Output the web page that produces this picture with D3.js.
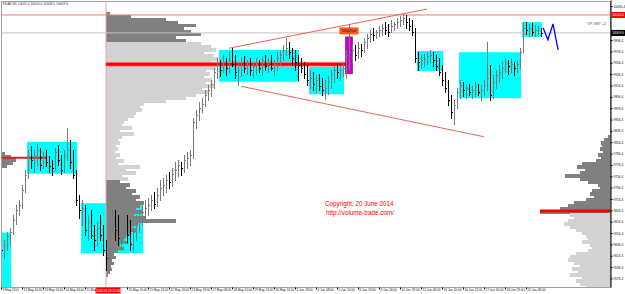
<!DOCTYPE html>
<html>
<head>
<meta charset="utf-8">
<script src="https://cdn.jsdelivr.net/npm/d3@7"></script>
<style>
  body { margin: 0; background: #fff; }
  svg { display: block; font-family: "Liberation Sans", Arial, sans-serif; }
</style>
</head>
<body>
<svg width="625" height="294"></svg>
<script>
// ---- data (FDAX H1, 9 May - 20 Jun 2014) ----
var firstOpen = 9640;
var high = [
  9648,9644,9658,9665,9688,9706,9715,9741,9767,9803,
  9810,9803,9813,9806,9799,9803,9792,9785,9806,9812,
  9794,9803,9841,9820,9803,9767,9723,9715,9706,9688,
  9697,9671,9676,9688,9671,9644,9683,9706,9697,9688,
  9671,9693,9688,9679,9671,9688,9697,9706,9715,9718,
  9723,9729,9736,9750,9753,9759,9764,9771,9782,9785,
  9782,9794,9799,9803,9859,9873,9887,9894,9908,9917,
  9926,9947,9965,9961,9970,9965,9975,9982,9970,9958,
  9965,9968,9961,9965,9958,9965,9961,9968,9970,9965,
  9970,9961,9975,9979,9988,10000,9993,9982,9979,9970,
  9965,9958,9952,9944,9940,9935,9937,9930,9926,9933,
  9944,9951,9954,9951,9958,9979,10025,9989,9988,9993,
  9989,10000,10007,10014,10018,10014,10021,10025,10028,10025,
  10032,10028,10035,10039,10042,10041,10035,10032,10018,9975,
  9970,9972,9975,9979,9975,9970,9965,9952,9940,9926,
  9900,9891,9912,9926,9923,9917,9919,9915,9923,9919,
  9917,9926,9993,9952,9935,9944,9952,9958,9965,9961,
  9965,9958,9961,9982,10028,10028,10025,10026,10023,10021,10018
];
var low = [
  9616,9612,9627,9635,9655,9672,9688,9701,9729,9753,
  9771,9764,9776,9767,9771,9775,9764,9759,9767,9776,
  9760,9764,9785,9771,9753,9706,9683,9671,9653,9644,
  9648,9627,9635,9644,9618,9591,9605,9658,9644,9635,
  9627,9648,9641,9627,9623,9644,9658,9671,9676,9688,
  9697,9701,9704,9715,9723,9729,9736,9739,9750,9757,
  9759,9764,9771,9776,9789,9841,9856,9870,9880,9891,
  9898,9912,9930,9933,9940,9935,9940,9951,9930,9917,
  9933,9940,9937,9935,9930,9937,9940,9935,9944,9940,
  9944,9935,9944,9952,9961,9970,9965,9952,9944,9926,
  9940,9930,9917,9912,9908,9905,9908,9900,9893,9901,
  9912,9923,9930,9926,9933,9930,9944,9958,9961,9965,
  9968,9975,9982,9993,9997,10000,10004,10005,10007,10004,
  10011,10014,10018,10021,10025,10018,10014,10005,9958,9944,
  9947,9951,9954,9958,9951,9944,9935,9917,9905,9882,
  9859,9849,9877,9894,9898,9894,9900,9894,9898,9900,
  9891,9900,9908,9891,9894,9912,9923,9930,9940,9937,
  9940,9935,9940,9947,9975,10007,10004,10005,10004,10007,10004
];
var close = [
  9627,9635,9651,9658,9679,9697,9706,9732,9759,9789,
  9785,9794,9803,9776,9789,9782,9775,9771,9799,9785,
  9767,9794,9803,9782,9759,9715,9697,9701,9662,9676,
  9653,9644,9665,9653,9627,9612,9671,9688,9662,9648,
  9662,9679,9653,9637,9658,9676,9683,9693,9701,9706,
  9715,9708,9723,9736,9741,9750,9746,9760,9767,9776,
  9771,9785,9789,9794,9852,9864,9877,9884,9900,9908,
  9919,9940,9952,9944,9958,9947,9961,9954,9940,9944,
  9958,9947,9952,9944,9951,9954,9947,9961,9951,9958,
  9947,9954,9965,9970,9979,9982,9975,9965,9958,9952,
  9947,9937,9926,9930,9919,9926,9915,9908,9912,9923,
  9937,9944,9940,9944,9947,9970,9975,9979,9970,9982,
  9979,9993,10000,10007,10005,10011,10014,10018,10014,10011,
  10021,10025,10028,10032,10035,10028,10021,10011,9965,9958,
  9961,9965,9968,9970,9961,9951,9940,9926,9912,9891,
  9870,9882,9905,9917,9908,9912,9905,9908,9915,9905,
  9908,9917,9930,9900,9923,9935,9940,9947,9958,9951,
  9954,9947,9954,9975,10018,10014,10018,10011,10014,10014,10009
];

var timeLabels = ["9 May 2014","12 May 10:00","13 May 13:00","14 May 16:00","15 May 19:00",
  "19 May 13:00","20 May 10:00","21 May 13:00","22 May 16:00","23 May 19:00",
  "27 May 08:00","28 May 10:00","29 May 13:00","30 May 16:00","2 Jun 19:00",
  "4 Jun 08:00","5 Jun 10:00","6 Jun 13:00","9 Jun 16:00","10 Jun 19:00",
  "12 Jun 08:00","13 Jun 10:00","16 Jun 13:00","17 Jun 16:00","18 Jun 19:00","20 Jun 08:00"];
var labelEvery = 7;
var cursorBar = 35, cursorLabel = "2014.05.19 13:00";

var priceTicks = d3.range(25).map(function(k){ return 10056.4 - 20 * k; });
var levelPrice = 10040.6;

// consolidation boxes: [from bar, to bar, high, low]
var boxes = [
  [0, 3, 9657, 9561], [9, 25, 9817, 9761], [27, 47, 9709, 9621],
  [73, 99, 9979, 9923], [103, 114, 9949, 9901], [139, 147, 9977, 9942],
  [153, 173, 9975, 9894], [174, 180, 10028, 10002]
];
var spikeBox = [115, 117, 10002, 9937];
var spikeLabel = "10025.0";

// trend channel: [bar, price]
var upperTrend = [[76, 9982], [142, 10051]];
var lowerTrend = [[80, 9915], [161, 9826]];
var forecast = [[180.7, 10018], [182.3, 9997], [184, 10025], [185.7, 9979]];

// volume profiles (bins of 5.3 pts, top down)
var binStep = 5.3;
var leftTop = 10046, leftStartBar = 35, leftPOC = 9954, leftPOCEnd = 116;
var leftLight = [9993, 9750];
var leftVolume = [4,25,60,72,90,78,85,95,70,80,
  95,105,110,98,108,112,105,115,110,100,104,98,106,100,108,96,102,90,80,60,
  38,34,36,30,28,22,18,16,26,14,28,16,12,14,10,12,9,14,10,18,12,34,20,30,16,22,
  14,24,20,30,26,34,30,38,34,30,36,28,40,70,32,26,30,24,20,18,22,14,18,12,8,10,6,8,5,6,4,2];
var rightTop = 9829, rightPOC = 9695, rightSplit = 9692;
var rightVolume = [2,6,9,8,10,7,12,9,14,28,33,25,30,45,30,22,12,10,18,20,16,24,36,42,50,70,
  40,36,42,46,40,34,28,24,22,28,20,18,22,34,40,42,36,30,38,32,40,28,34,30,24];
var smallTop = 9799, smallPOC = 9789, smallPOCEnd = 15;
var smallVolume = [4,10,15,12,6];

// ---- chart ----
var svg = d3.select("svg"),
    width = +svg.attr("width"), height = +svg.attr("height"),
    plot = {left: 1, top: 1, right: 610, bottom: 287};

var x = d3.scaleLinear().domain([0, 180]).range([1, 541]),
    y = d3.scaleLinear().domain([9561.3, 10067]).range([plot.bottom, 0]),
    fmt = d3.format(".1f");

svg.append("rect").attr("width", width).attr("height", height).attr("fill", "#fff");

svg.append("defs").append("clipPath").attr("id", "clip")
  .append("rect")
    .attr("x", plot.left).attr("y", plot.top)
    .attr("width", plot.right - plot.left).attr("height", plot.bottom - plot.top);

var g = svg.append("g").attr("clip-path", "url(#clip)");

g.selectAll(".box").data(boxes).enter().append("rect")
    .attr("class", "box")
    .attr("x", function(d){ return x(d[0]) - 1; })
    .attr("width", function(d){ return x(d[1]) - x(d[0]) + 2; })
    .attr("y", function(d){ return y(d[2]); })
    .attr("height", function(d){ return y(d[3]) - y(d[2]); })
    .attr("fill", "#00ffff");

var binPx = y(0) - y(binStep);

function drawProfile(vals, top, x0, dir, maxW, shade) {
  var w = d3.scaleLinear().domain([0, d3.max(vals)]).range([0, maxW]);
  g.append("g").attr("shape-rendering", "crispEdges")
    .selectAll("rect").data(vals).enter().append("rect")
      .attr("x", function(d){ return dir > 0 ? x0 : x0 - w(d); })
      .attr("width", function(d){ return w(d); })
      .attr("y", function(d, i){ return y(top - i * binStep); })
      .attr("height", binPx + 0.5)
      .attr("fill", function(d, i){ return shade(top - i * binStep) ? "#d3d3d3" : "#808080"; });
}

drawProfile(leftVolume, leftTop, x(leftStartBar), 1, 115,
  function(p){ return p <= leftLight[0] && p > leftLight[1]; });
drawProfile(rightVolume, rightTop, plot.right, -1, 70,
  function(p){ return p <= rightSplit; });
drawProfile(smallVolume, smallTop, plot.left, 1, 15, function(){ return false; });

// cursor line at profile start
g.append("line")
    .attr("x1", x(cursorBar)).attr("x2", x(cursorBar))
    .attr("y1", plot.top).attr("y2", plot.bottom)
    .attr("stroke", "#f2a0a0").attr("stroke-width", 1);

// POC lines
g.append("line")
    .attr("x1", x(leftStartBar)).attr("x2", x(leftPOCEnd))
    .attr("y1", y(leftPOC)).attr("y2", y(leftPOC))
    .attr("stroke", "#ff9090").attr("stroke-width", 5);
g.append("line")
    .attr("x1", x(leftStartBar)).attr("x2", x(leftPOCEnd))
    .attr("y1", y(leftPOC)).attr("y2", y(leftPOC))
    .attr("stroke", "#ff0000").attr("stroke-width", 3);
g.append("line")
    .attr("x1", plot.right - 70).attr("x2", plot.right)
    .attr("y1", y(rightPOC)).attr("y2", y(rightPOC))
    .attr("stroke", "#ff0000").attr("stroke-width", 3);
g.append("line")
    .attr("x1", plot.left).attr("x2", x(smallPOCEnd))
    .attr("y1", y(smallPOC)).attr("y2", y(smallPOC))
    .attr("stroke", "#e02020").attr("stroke-width", 2);

// price lines
var last = close[close.length - 1];
g.append("line")
    .attr("x1", plot.left).attr("x2", plot.right)
    .attr("y1", y(last)).attr("y2", y(last))
    .attr("stroke", "#c0c0c0");
g.append("line")
    .attr("x1", plot.left).attr("x2", plot.right)
    .attr("y1", y(levelPrice)).attr("y2", y(levelPrice))
    .attr("stroke", "#f07878");

// trend channel
var tline = d3.line().x(function(d){ return x(d[0]); }).y(function(d){ return y(d[1]); });
g.selectAll(".trend").data([upperTrend, lowerTrend]).enter().append("path")
    .attr("d", tline).attr("fill", "none")
    .attr("stroke", "#f06060").attr("stroke-width", 1);

// spike box
g.append("rect")
    .attr("x", x(spikeBox[0]) - 0.5).attr("width", x(spikeBox[1]) - x(spikeBox[0]) + 1)
    .attr("y", y(spikeBox[2])).attr("height", y(spikeBox[3]) - y(spikeBox[2]))
    .attr("fill", "#cc00cc").attr("stroke", "#800080").attr("stroke-width", 0.6);

// OHLC bars
var bars = close.map(function(c, i){
  return {i: i, o: i ? close[i - 1] : firstOpen, h: high[i], l: low[i], c: c};
});
var bg = g.append("g").attr("shape-rendering", "crispEdges");
bars.forEach(function(d){
  var col = d.c < d.o ? "#000" : "#7a7a7a", bx = Math.round(x(d.i)) + 0.5;
  bg.append("line").attr("x1", bx).attr("x2", bx)
    .attr("y1", y(Math.max(d.h, d.o))).attr("y2", y(Math.min(d.l, d.o)) + 1)
    .attr("stroke", col);
  bg.append("line").attr("x1", bx - 1).attr("x2", bx)
    .attr("y1", Math.round(y(d.o)) + 0.5).attr("y2", Math.round(y(d.o)) + 0.5).attr("stroke", col);
  bg.append("line").attr("x1", bx).attr("x2", bx + 1.5)
    .attr("y1", Math.round(y(d.c)) + 0.5).attr("y2", Math.round(y(d.c)) + 0.5).attr("stroke", col);
});

// spike label
var sl = g.append("g").attr("transform", "translate(" + x(spikeBox[0] + 1) + "," + (y(spikeBox[2]) - 6) + ")");
sl.append("rect").attr("x", -9.5).attr("y", -3.5).attr("width", 19).attr("height", 7)
    .attr("fill", "#f25a1e");
sl.append("text").attr("text-anchor", "middle").attr("dy", "0.35em")
    .attr("font-size", 4).attr("fill", "#300").text(spikeLabel);

// forecast zigzag
g.append("path").datum(forecast).attr("d", tline)
    .attr("fill", "none").attr("stroke", "#0000ff").attr("stroke-width", 1.3);

// texts
svg.append("text").attr("x", 3).attr("y", 5.2).attr("font-size", 3.3).attr("fill", "#333")
    .text("FDAX,H1  10011.0 10014.0 10008.5 10009.0");
svg.append("text").attr("x", 606).attr("y", 25).attr("text-anchor", "end")
    .attr("font-size", 3.6).attr("fill", "#555").text("VP GMT +2");
svg.append("text").attr("x", 325).attr("y", 206).attr("font-size", 6.3).attr("fill", "#ff0000")
    .text("Copyright, 20 June 2014");
svg.append("text").attr("x", 326).attr("y", 215).attr("font-size", 6.3).attr("fill", "#ff0000")
    .text("http://volume-trade.com/");

// frame
svg.append("rect")
    .attr("x", plot.left + 0.5).attr("y", plot.top + 0.5)
    .attr("width", plot.right - plot.left).attr("height", plot.bottom - plot.top)
    .attr("fill", "none").attr("stroke", "#a0a0a0");

// price axis (labels under the two price tags are hidden, as on the terminal)
var tags = [levelPrice, last],
    shownTicks = priceTicks.filter(function(p){
      return tags.every(function(t){ return Math.abs(y(p) - y(t)) > 4.5; });
    });
var yAxis = d3.axisRight(y).tickValues(shownTicks).tickFormat(fmt)
    .tickSize(2).tickSizeOuter(0).tickPadding(1);
var ya = svg.append("g").attr("transform", "translate(" + (plot.right + 0.5) + ",0)").call(yAxis);
ya.select(".domain").attr("stroke", "#000");
ya.selectAll("text").attr("font-size", 3.2).attr("fill", "#111");

function priceTag(p, bgc) {
  var t = svg.append("g").attr("transform", "translate(" + (plot.right + 1) + "," + y(p) + ")");
  t.append("rect").attr("x", 0).attr("y", -3).attr("width", 14).attr("height", 6).attr("fill", bgc);
  t.append("text").attr("x", 1.3).attr("dy", "0.35em").attr("font-size", 3.2).attr("fill", "#fff")
    .text(fmt(p));
}
priceTag(levelPrice, "#ff0000");
priceTag(last, "#000");

// time axis (the cursor tag covers the label under it)
var xTicks = timeLabels.map(function(d, k){ return k * labelEvery; })
    .filter(function(i){ return i !== cursorBar; });
var xAxis = d3.axisBottom(x)
    .tickValues(xTicks)
    .tickFormat(function(d){ return timeLabels[d / labelEvery]; })
    .tickSize(2).tickSizeOuter(0).tickPadding(0);
var xa = svg.append("g").attr("transform", "translate(0," + (plot.bottom + 0.5) + ")").call(xAxis);
xa.select(".domain").remove();
xa.selectAll("text").attr("font-size", 3.1).attr("fill", "#111")
    .attr("text-anchor", "start").attr("dx", 1).attr("y", 1.5);

var cl = svg.append("g").attr("transform", "translate(" + (x(cursorBar) + 2) + "," + (plot.bottom + 3.5) + ")");
cl.append("rect").attr("x", -12.5).attr("y", -3).attr("width", 25).attr("height", 6).attr("fill", "#ff0000");
cl.append("text").attr("text-anchor", "middle").attr("dy", "0.35em")
    .attr("font-size", 3.1).attr("fill", "#fff").text(cursorLabel);
</script>
</body>
</html>
